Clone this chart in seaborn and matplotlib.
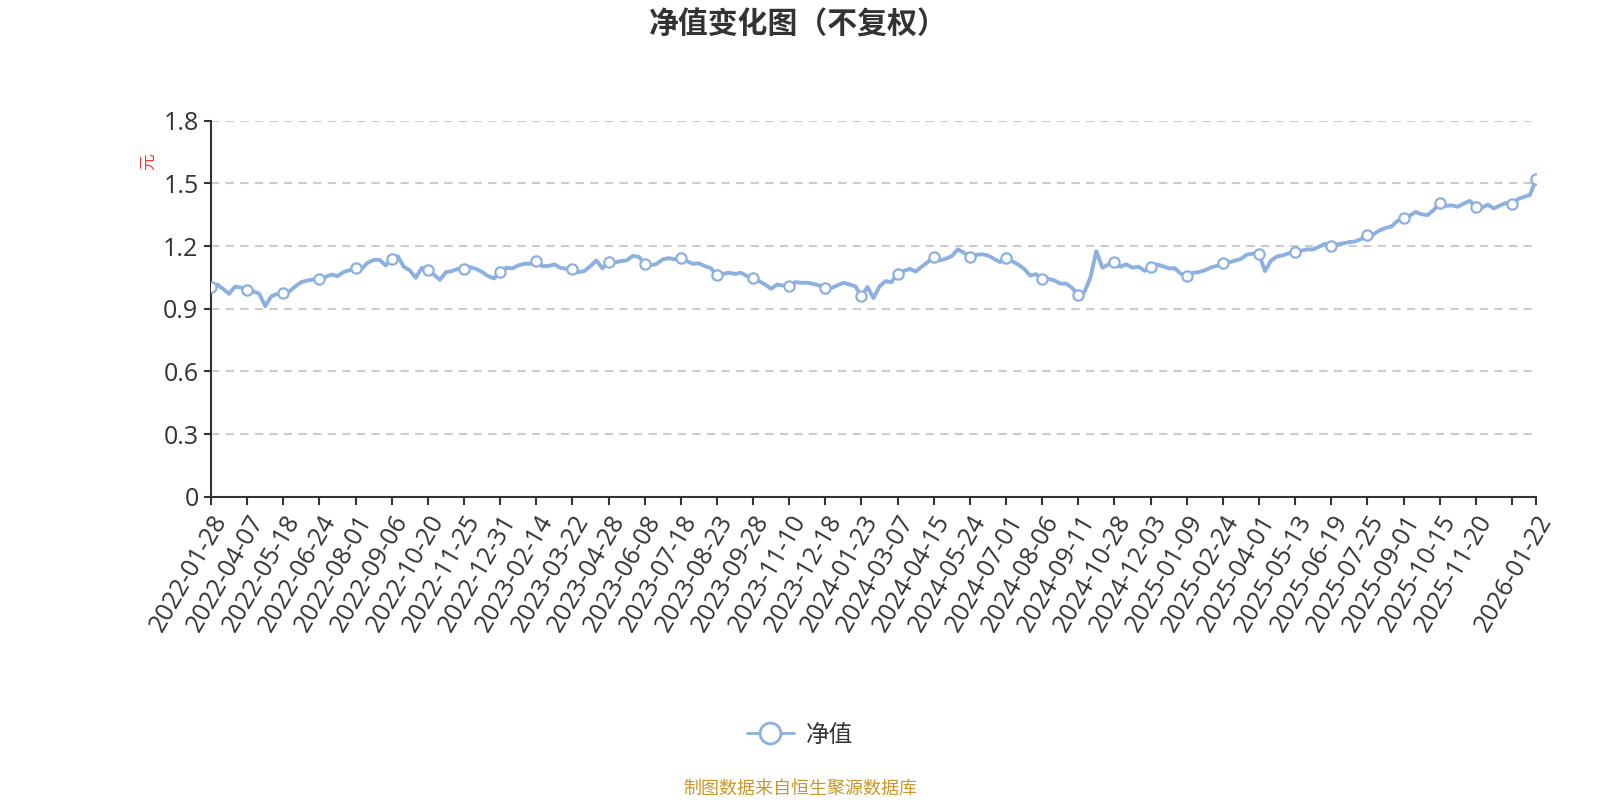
import numpy as np
import pandas as pd
import matplotlib
matplotlib.use("Agg")
import matplotlib.pyplot as plt
import seaborn as sns
from matplotlib.lines import Line2D

# ---- data ----
tick_labels = [
    "2022-01-28", "2022-04-07", "2022-05-18", "2022-06-24", "2022-08-01", "2022-09-06",
    "2022-10-20", "2022-11-25", "2022-12-31", "2023-02-14", "2023-03-22", "2023-04-28",
    "2023-06-08", "2023-07-18", "2023-08-23", "2023-09-28", "2023-11-10", "2023-12-18",
    "2024-01-23", "2024-03-07", "2024-04-15", "2024-05-24", "2024-07-01", "2024-08-06",
    "2024-09-11", "2024-10-28", "2024-12-03", "2025-01-09", "2025-02-24", "2025-04-01",
    "2025-05-13", "2025-06-19", "2025-07-25", "2025-09-01", "2025-10-15", "2025-11-20",
]
last_label = "2026-01-22"

nav = [
    1.004, 1.016, 0.995, 0.971, 1.006, 1.001,
    0.991, 0.983, 0.972, 0.912, 0.959, 0.971,
    0.975, 0.983, 1.007, 1.027, 1.035, 1.040,
    1.040, 1.052, 1.064, 1.056, 1.075, 1.084,
    1.096, 1.091, 1.120, 1.133, 1.134, 1.107,
    1.139, 1.152, 1.101, 1.084, 1.048, 1.096,
    1.084, 1.064, 1.038, 1.075, 1.080, 1.091,
    1.091, 1.099, 1.091, 1.076, 1.056, 1.045,
    1.076, 1.096, 1.093, 1.107, 1.115, 1.115,
    1.128, 1.104, 1.104, 1.112, 1.096, 1.091,
    1.088, 1.075, 1.080, 1.104, 1.131, 1.093,
    1.125, 1.120, 1.128, 1.131, 1.152, 1.149,
    1.115, 1.107, 1.115, 1.136, 1.142, 1.136,
    1.145, 1.128, 1.115, 1.117, 1.104, 1.094,
    1.059, 1.067, 1.072, 1.067, 1.072, 1.056,
    1.046, 1.032, 1.016, 0.995, 1.016, 1.011,
    1.011, 1.027, 1.024, 1.024, 1.019, 1.011,
    0.999, 0.999, 1.012, 1.024, 1.016, 1.007,
    0.959, 1.004, 0.951, 1.007, 1.032, 1.027,
    1.068, 1.080, 1.091, 1.078, 1.101, 1.123,
    1.149, 1.131, 1.139, 1.152, 1.184, 1.168,
    1.149, 1.157, 1.161, 1.155, 1.139, 1.123,
    1.144, 1.128, 1.112, 1.091, 1.059, 1.065,
    1.043, 1.043, 1.036, 1.020, 1.020, 0.999,
    0.967, 0.979, 1.048, 1.175, 1.096, 1.112,
    1.123, 1.101, 1.112, 1.096, 1.101, 1.081,
    1.101, 1.112, 1.104, 1.093, 1.094, 1.068,
    1.056, 1.072, 1.075, 1.084, 1.097, 1.105,
    1.119, 1.122, 1.130, 1.138, 1.159, 1.164,
    1.161, 1.080, 1.130, 1.150, 1.156, 1.166,
    1.172, 1.178, 1.184, 1.184, 1.197, 1.211,
    1.200, 1.208, 1.213, 1.219, 1.222, 1.234,
    1.255, 1.255, 1.275, 1.286, 1.294, 1.320,
    1.333, 1.345, 1.363, 1.352, 1.348, 1.372,
    1.406, 1.392, 1.395, 1.388, 1.403, 1.416,
    1.388, 1.383, 1.398, 1.380, 1.394, 1.406,
    1.403, 1.425, 1.435, 1.445, 1.520,
]
step = 6  # points between labelled ticks

y_ticks = [0, 0.3, 0.6, 0.9, 1.2, 1.5, 1.8]
y_tick_labels = ["0", "0.3", "0.6", "0.9", "1.2", "1.5", "1.8"]

# ---- style ----
sns.set_theme(style="white")
plt.rcParams["font.family"] = ["Noto Sans CJK SC", "DejaVu Sans"]

LINE = "#8cb0e0"
AX = "#333333"
TICKFONT = ["Open Sans", "DejaVu Sans"]

df = pd.DataFrame({"idx": np.arange(len(nav)), "nav": nav})
last = len(nav) - 1
tick_pos = list(range(0, last - 1, step))  # 0 .. 216
mk_pos = tick_pos + [last]
mk_df = df.iloc[mk_pos]

fig = plt.figure(figsize=(16, 8), dpi=100)
ax = fig.add_axes([211 / 1600, 1 - 496.7 / 800, (1536 - 211) / 1600, 376 / 800])

sns.lineplot(data=df, x="idx", y="nav", color=LINE, linewidth=2.8, ax=ax, zorder=3)
sns.scatterplot(data=mk_df, x="idx", y="nav", s=55, color="white", edgecolor=LINE,
                linewidth=1.6, ax=ax, zorder=4, legend=False)

ax.set_xlim(0, last)
ax.set_ylim(0, 1.8)
ax.set_yticks(y_ticks)
ax.set_yticklabels(y_tick_labels, fontsize=18, color=AX, family=TICKFONT)

xt = tick_pos + [last]
xl = [tick_labels[i] if i < len(tick_labels) else "" for i in range(len(tick_pos))] + [last_label]
ax.set_xticks(xt)
ax.set_xticklabels(xl, rotation=60, ha="right", va="top", rotation_mode="anchor",
                   fontsize=18, color=AX, family=TICKFONT)

ax.set_xlabel("")
ax.set_ylabel("")
ax.yaxis.grid(True, linestyle=(0, (4, 3)), color="#cccccc", linewidth=1.5)
ax.xaxis.grid(False)
for s in ["top", "right"]:
    ax.spines[s].set_visible(False)
for s in ["left", "bottom"]:
    ax.spines[s].set_color(AX)
    ax.spines[s].set_linewidth(1.5)
ax.tick_params(axis="y", which="both", left=True, length=5, width=1.5, color=AX, pad=4)
ax.tick_params(axis="x", which="both", bottom=True, length=6, width=1.5, color=AX, pad=4)

# y unit label
fig.text(148 / 1600, 1 - 162 / 800, "元", rotation=90, color="#ff3333", fontsize=12,
         ha="center", va="center")

# title
fig.text(798 / 1600, 1 - 25 / 800, "净值变化图（不复权）", fontsize=21.5, fontweight="bold",
         color=AX, ha="center", va="center")

# legend
handle = Line2D([0], [0], color=LINE, linewidth=2, marker="o", markersize=15,
                markerfacecolor="white", markeredgecolor=LINE, markeredgewidth=2)
fig.legend(handles=[handle], labels=["净值"], loc="center", bbox_to_anchor=(0.5, 1 - 735 / 800),
           frameon=False, fontsize=17, handlelength=2.0, handletextpad=0.5,
           labelcolor=AX)

# footer
fig.text(0.5, 1 - 789 / 800, "制图数据来自恒生聚源数据库", fontsize=13, color="#c9962b",
         ha="center", va="center")

fig.savefig("out.png", dpi=100)
